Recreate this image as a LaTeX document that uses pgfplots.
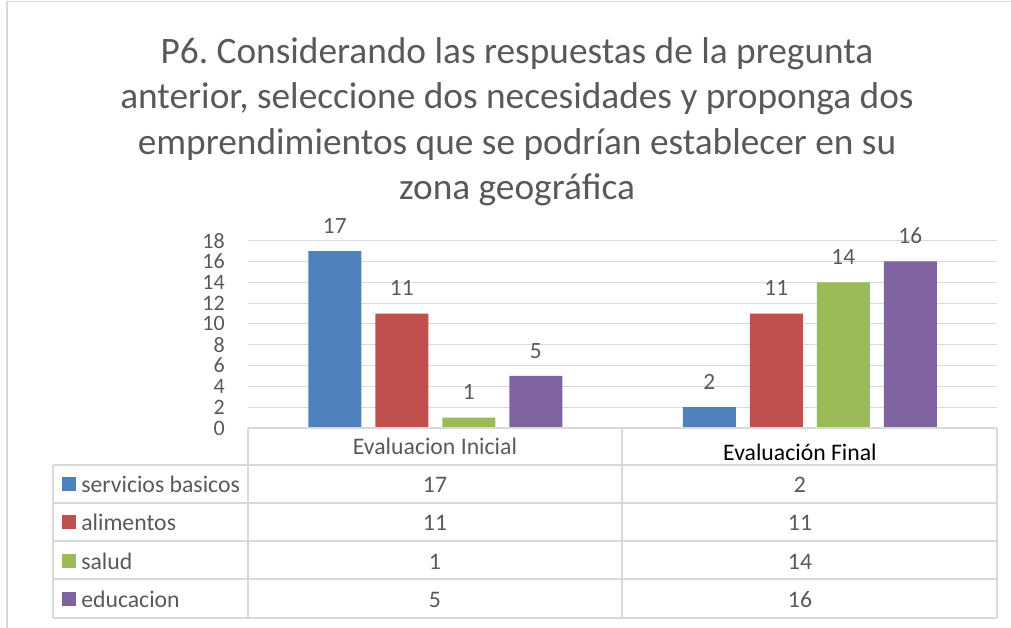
\documentclass[border=0pt]{standalone}
\usepackage{fontspec}
\setmainfont{Carlito}
\usepackage{pgfplots}
\pgfplotsset{compat=1.18}
\usepackage{pgfplotstable}
\frenchspacing

\definecolor{sbblue}{HTML}{4F81BD}
\definecolor{alred}{HTML}{C0504D}
\definecolor{sagreen}{HTML}{9BBB59}
\definecolor{edpurple}{HTML}{8064A2}
\definecolor{txtgray}{HTML}{595959}
\definecolor{linegray}{HTML}{D9D9D9}

\pgfplotstableread{
x sb al sa ed
0 17 11 1 5
1 2 11 14 16
}\datatable

\begin{document}
\begin{tikzpicture}
% one pixel of the reference is 0.75pt
\begin{axis}[
  at={(186pt,-321pt)}, anchor=south west,
  scale only axis,
  width=561.75pt, height=140.5pt,
  ybar=10.5pt, bar width=39.75pt,
  xmin=-0.5, xmax=1.5, xtick=\empty,
  ymin=0, ymax=18, ytick={0,2,...,18},
  axis line style={draw=none},
  tick style={draw=none},
  ymajorgrids, grid style={linegray, line width=0.8pt},
  /pgf/number format/assume math mode=true,
  yticklabel style={font=\fontsize{16.5}{16.5}\selectfont, text=txtgray, inner sep=0pt, xshift=-17.25pt},
  nodes near coords,
  nodes near coords style={font=\fontsize{17.5}{17.5}\selectfont, text=txtgray, inner sep=0pt, anchor=south, yshift=13pt},
  clip=false,
]
\addplot[fill=sbblue, draw=none] table[x=x, y=sb] {\datatable};
\addplot[fill=alred, draw=none] table[x=x, y=al] {\datatable};
\addplot[fill=sagreen, draw=none] table[x=x, y=sa] {\datatable};
\addplot[fill=edpurple, draw=none] table[x=x, y=ed] {\datatable};
\end{axis}

\begin{scope}[x=0.75pt, y=-0.75pt]
  % chart frame
  \draw[linegray, line width=0.8pt] (7,628) -- (7,1.5) -- (1011,1.5);

  % title
  \begin{scope}[every node/.style={anchor=base, text=txtgray, inner sep=0pt, font=\fontsize{28}{28}\selectfont}]
    \node at (517,63) {P6. Considerando las respuestas de la pregunta};
    \node at (517,108) {anterior, seleccione dos necesidades y proponga dos};
    \node at (517,154) {emprendimientos que se podrían establecer en su};
    \node at (517,199) {zona geográfica};
  \end{scope}

  % data table
  \begin{scope}[linegray, line width=1.3pt]
    \draw (248,428) -- (997,428);
    \foreach \y in {465,503,541,579,618} \draw (53,\y) -- (997,\y);
    \draw (53,465) -- (53,618);
    \foreach \x in {248,622,997} \draw (\x,428) -- (\x,618);
  \end{scope}
  \begin{scope}[every node/.style={anchor=base, inner sep=0pt, font=\fontsize{17.8}{17.8}\selectfont}]
    \node[text=txtgray] at (435,454) {Evaluacion Inicial};
    \node[text=black] at (800,460) {Evaluación Final};
    \foreach \col/\lab/\clr [count=\r from 0] in {sb/servicios basicos/sbblue, al/alimentos/alred, sa/salud/sagreen, ed/educacion/edpurple} {
      \pgfmathsetmacro\yc{484+38.3*\r}
      \fill[\clr] (62,\yc-7) rectangle (76,\yc+7);
      \node[anchor=base west, text=txtgray] at (81,\yc+8.5) {\lab};
      \pgfplotstablegetelem{0}{\col}\of\datatable
      \node[text=txtgray] at (435,\yc+8.5) {\pgfplotsretval};
      \pgfplotstablegetelem{1}{\col}\of\datatable
      \node[text=txtgray] at (800,\yc+8.5) {\pgfplotsretval};
    }
  \end{scope}
\end{scope}

\pgfresetboundingbox
\path (0,0) rectangle (758.25pt,-471pt);
\end{tikzpicture}
\end{document}
